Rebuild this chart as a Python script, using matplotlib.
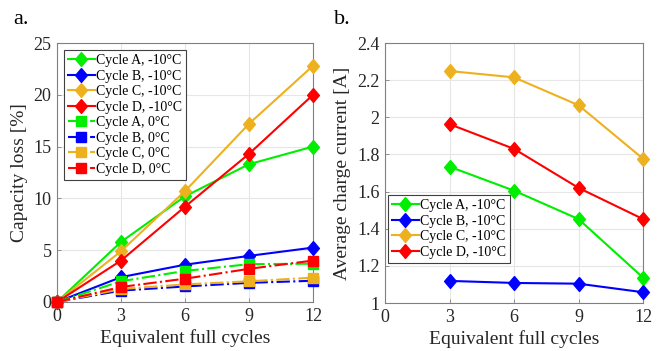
import matplotlib
matplotlib.use("Agg")
import matplotlib.pyplot as plt

plt.rcParams['font.family'] = ['Liberation Serif', 'DejaVu Serif']

efc = [0, 3, 6, 9, 12]
efc_b = [3, 6, 9, 12]
names = ['Cycle A', 'Cycle B', 'Cycle C', 'Cycle D']
colors = ['#00ee00', '#0000ff', '#edb120', '#ff0000']

loss_m10 = [
    [0, 5.8, 10.2, 13.3, 15.0],
    [0, 2.4, 3.6, 4.45, 5.25],
    [0, 4.9, 10.7, 17.2, 22.8],
    [0, 4.0, 9.2, 14.3, 20.0],
]
loss_0 = [
    [0, 2.0, 3.0, 3.65, 3.7],
    [0, 1.1, 1.5, 1.85, 2.05],
    [0, 1.25, 1.7, 2.0, 2.35],
    [0, 1.45, 2.25, 3.2, 4.0],
]
current_m10 = [
    [1.734, 1.605, 1.452, 1.137],
    [1.119, 1.108, 1.104, 1.058],
    [2.249, 2.215, 2.065, 1.777],
    [1.963, 1.830, 1.620, 1.452],
]

diamond = [(0, 1), (0.85, 0), (0, -1), (-0.85, 0), (0, 1)]

W, H = 662, 351
fig = plt.figure(figsize=(W/100, H/100), dpi=100)
ax1 = fig.add_axes([57/W, 1-302/H, (313-57)/W, (302-43)/H])
ax2 = fig.add_axes([385/W, 1-303/H, (643-385)/W, (303-43)/H])

for i in range(4):
    ax1.plot(efc, loss_m10[i], '-', color=colors[i], marker=diamond, ms=10, lw=1.5,
             label=f'{names[i]}, -10°C', zorder=3, clip_on=False)
for i in range(4):
    ax1.plot(efc, loss_0[i], '-.', color=colors[i], marker='s', ms=6.5, lw=1.5,
             label=f'{names[i]}, 0°C', zorder=3, clip_on=False)
for i in range(4):
    ax2.plot(efc_b, current_m10[i], '-', color=colors[i], marker=diamond, ms=10, lw=1.5,
             label=f'{names[i]}, -10°C', zorder=3, clip_on=False)

ax1.set_xlim(0, 12)
ax1.set_ylim(0, 25)
ax1.set_yticks([0, 5, 10, 15, 20, 25])
ax2.set_xlim(0, 12)
ax2.set_ylim(1, 2.4)
ax2.set_yticks([1, 1.2, 1.4, 1.6, 1.8, 2, 2.2, 2.4])
ax2.set_yticklabels(['1', '1.2', '1.4', '1.6', '1.8', '2', '2.2', '2.4'])

for ax in (ax1, ax2):
    ax.set_xticks([0, 3, 6, 9, 12])
    ax.grid(True, color='#e6e6e6', lw=0.8)
    ax.set_axisbelow(True)
    ax.tick_params(labelsize=13, labelcolor='#262626', color='#808080',
                   direction='in', length=3, width=0.6, pad=4)
    for s in ax.spines.values():
        s.set_color('#808080')
        s.set_linewidth(0.8)
    ax.set_xlabel('Equivalent full cycles', fontsize=14, color='#262626', labelpad=3)

ax1.set_ylabel('Capacity loss [%]', fontsize=14, color='#262626', labelpad=4)
ax2.set_ylabel('Average charge current [A]', fontsize=14, color='#262626', labelpad=4)

legkw = dict(fontsize=10, handlelength=1.9, borderpad=0.3, labelspacing=0.18,
             handletextpad=0.12, fancybox=False, edgecolor='#404040', framealpha=1,
             borderaxespad=0)
leg1 = ax1.legend(loc='upper left', bbox_to_anchor=((64-57)/256, 1-(50-43)/259), **legkw)
leg1.get_frame().set_linewidth(0.8)
leg2 = ax2.legend(loc='upper left', bbox_to_anchor=((388-385)/258, 1-(195-43)/260), **legkw)
leg2.get_frame().set_linewidth(0.8)

fig.text(13/W, 1-20/H, 'a.', fontsize=16, va='center', ha='left')
fig.text(334/W, 1-20/H, 'b.', fontsize=16, va='center', ha='left')

fig.savefig('out.png', dpi=100)
